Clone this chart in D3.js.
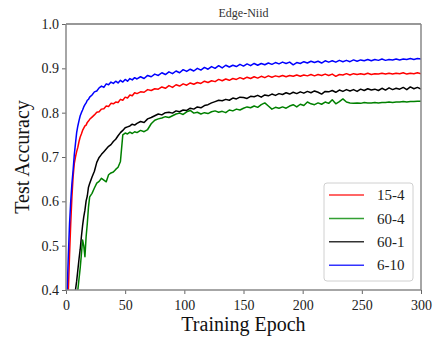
<!DOCTYPE html>
<html><head><meta charset="utf-8">
<script src="https://cdn.jsdelivr.net/npm/d3@7"></script>
<style>body{margin:0;background:#fff}svg{display:block}text{font-family:"Liberation Serif","Times New Roman",serif}</style>
</head><body><svg id="c" width="438" height="338"></svg>
<script>
const epochs = [0,1,2,3,4,5,6,7,8,9,10,11,12,13,14,15,16,17,18,19,20,
22,24,26,28,30,32,34,36,38,40,42,44,46,48,50,52,54,56,58,60,
63,66,69,72,75,78,81,84,87,90,93,96,99,102,105,108,111,114,117,120,
123,126,129,132,135,138,141,144,147,150,153,156,159,162,165,168,171,174,177,180,
183,186,189,192,195,198,201,204,207,210,213,216,219,222,225,228,231,234,237,240,
243,246,249,252,255,258,261,264,267,270,273,276,279,282,285,288,291,294,297,300];

const acc_15_4 = [0.300,0.350,0.400,0.480,0.550,0.610,0.655,0.685,0.700,0.712,0.722,0.735,0.745,0.752,0.760,0.765,0.770,0.772,0.778,0.781,0.785,
0.790,0.795,0.801,0.802,0.808,0.809,0.815,0.814,0.821,0.820,0.824,0.823,0.830,0.828,0.835,0.833,0.840,0.838,0.845,0.843,
0.847,0.846,0.852,0.850,0.854,0.853,0.858,0.855,0.861,0.857,0.863,0.860,0.865,0.862,0.867,0.864,0.868,0.866,0.871,0.868,
0.872,0.870,0.875,0.872,0.876,0.873,0.877,0.875,0.879,0.876,0.880,0.877,0.881,0.878,0.882,0.879,0.883,0.880,0.883,0.881,
0.884,0.881,0.884,0.882,0.885,0.882,0.885,0.883,0.886,0.883,0.886,0.884,0.887,0.884,0.887,0.882,0.886,0.885,0.888,0.885,
0.888,0.886,0.888,0.886,0.889,0.886,0.888,0.887,0.889,0.887,0.889,0.887,0.889,0.888,0.890,0.887,0.889,0.888,0.890,0.888];

const acc_60_4 = [0.100,0.130,0.160,0.190,0.220,0.250,0.280,0.310,0.340,0.370,0.400,0.425,0.450,0.480,0.513,0.500,0.475,0.520,0.550,0.587,0.610,
0.618,0.630,0.641,0.645,0.652,0.648,0.644,0.660,0.664,0.666,0.672,0.677,0.690,0.750,0.754,0.752,0.756,0.753,0.757,0.755,
0.760,0.757,0.762,0.775,0.783,0.786,0.788,0.791,0.789,0.793,0.797,0.799,0.796,0.802,0.805,0.799,0.801,0.797,0.800,0.798,
0.802,0.804,0.801,0.803,0.800,0.806,0.804,0.808,0.806,0.810,0.813,0.811,0.815,0.812,0.818,0.822,0.815,0.808,0.812,0.810,
0.813,0.810,0.815,0.818,0.813,0.819,0.816,0.824,0.820,0.818,0.822,0.819,0.824,0.821,0.829,0.820,0.825,0.831,0.824,0.822,
0.821,0.822,0.821,0.823,0.822,0.822,0.823,0.822,0.823,0.823,0.824,0.823,0.824,0.824,0.825,0.824,0.825,0.825,0.826,0.826];

const acc_60_1 = [0.200,0.220,0.250,0.280,0.310,0.330,0.350,0.375,0.400,0.420,0.445,0.470,0.492,0.520,0.545,0.565,0.580,0.601,0.612,0.632,0.640,
0.655,0.668,0.688,0.699,0.706,0.712,0.718,0.724,0.728,0.735,0.740,0.748,0.755,0.760,0.766,0.768,0.770,0.774,0.772,0.776,
0.780,0.778,0.786,0.789,0.793,0.797,0.795,0.800,0.801,0.799,0.804,0.802,0.806,0.805,0.810,0.808,0.813,0.811,0.816,0.818,
0.822,0.825,0.828,0.827,0.830,0.828,0.833,0.831,0.835,0.834,0.832,0.837,0.836,0.839,0.835,0.840,0.838,0.842,0.839,0.843,
0.841,0.845,0.842,0.846,0.843,0.847,0.844,0.848,0.845,0.849,0.846,0.842,0.848,0.847,0.850,0.846,0.851,0.848,0.852,0.849,
0.852,0.848,0.853,0.850,0.854,0.851,0.853,0.850,0.855,0.851,0.856,0.852,0.855,0.853,0.857,0.852,0.858,0.854,0.857,0.853];

const acc_6_10 = [0.330,0.400,0.480,0.550,0.600,0.640,0.670,0.705,0.730,0.755,0.770,0.782,0.793,0.800,0.806,0.813,0.818,0.822,0.828,0.830,0.835,
0.840,0.847,0.849,0.856,0.860,0.857,0.865,0.863,0.869,0.866,0.871,0.867,0.873,0.869,0.875,0.871,0.877,0.874,0.879,0.876,
0.881,0.877,0.884,0.881,0.887,0.884,0.890,0.886,0.892,0.888,0.894,0.890,0.897,0.893,0.898,0.894,0.900,0.896,0.902,0.898,
0.904,0.900,0.906,0.901,0.907,0.903,0.907,0.904,0.909,0.905,0.910,0.906,0.911,0.907,0.911,0.908,0.912,0.909,0.913,0.910,
0.914,0.911,0.914,0.908,0.913,0.911,0.915,0.912,0.916,0.913,0.916,0.912,0.917,0.914,0.917,0.914,0.918,0.915,0.918,0.915,
0.919,0.916,0.919,0.917,0.920,0.917,0.920,0.918,0.921,0.918,0.920,0.919,0.921,0.919,0.921,0.920,0.922,0.920,0.922,0.921];

const seriesNames = ["15-4","60-4","60-1","6-10"];
const seriesColors = ["#ff0000","#008000","#000000","#0000ff"];
const legendColors = ["#ff3333","#33a033","#333333","#3333ff"];
const xTicks = [0,50,100,150,200,250,300];
const yTicks = [0.4,0.5,0.6,0.7,0.8,0.9,1.0];

const series = [acc_15_4, acc_60_4, acc_60_1, acc_6_10];

const W = 438, H = 338;
const m = {l:66, r:17, t:24, b:48};
const svg = d3.select("#c");
const x = d3.scaleLinear().domain([0,300]).range([m.l, W-m.r]);
const y = d3.scaleLinear().domain([0.4,1.0]).range([H-m.b, m.t]);

svg.append("defs").append("clipPath").attr("id","clip")
  .append("rect").attr("x",m.l).attr("y",m.t).attr("width",W-m.l-m.r).attr("height",H-m.t-m.b);

const line = d3.line().x((d,i)=>x(epochs[i])).y(d=>y(d));
const g = svg.append("g").attr("clip-path","url(#clip)");
series.forEach((s,k)=>{
  g.append("path").datum(s).attr("d",line).attr("fill","none")
   .attr("stroke",seriesColors[k]).attr("stroke-width",1.5).attr("stroke-linejoin","round");
});

// axes
const xa = svg.append("g").attr("transform",`translate(0,${H-m.b})`)
  .call(d3.axisBottom(x).tickValues(xTicks).tickFormat(d3.format("d")).tickSize(4).tickSizeOuter(0));
const ya = svg.append("g").attr("transform",`translate(${m.l},0)`)
  .call(d3.axisLeft(y).tickValues(yTicks).tickFormat(d3.format(".1f")).tickSize(4).tickSizeOuter(0));
[xa,ya].forEach(a=>{
  a.attr("font-family",'"Liberation Serif",serif').attr("font-size",14);
  a.select(".domain").remove();
  a.selectAll(".tick line").attr("stroke","#666");
  a.selectAll(".tick text").attr("fill","#222");
});
xa.selectAll(".tick text").attr("dy","0.95em");
ya.selectAll(".tick text").attr("x",-7);

// spines
svg.append("line").attr("x1",m.l).attr("x2",W-m.r).attr("y1",m.t).attr("y2",m.t).attr("stroke","#333").attr("stroke-width",1.2);
svg.append("line").attr("x1",m.l).attr("x2",W-m.r).attr("y1",H-m.b).attr("y2",H-m.b).attr("stroke","#888").attr("stroke-width",1.5);
svg.append("line").attr("x1",m.l).attr("x2",m.l).attr("y1",m.t).attr("y2",H-m.b).attr("stroke","#888").attr("stroke-width",1.5);
svg.append("line").attr("x1",W-m.r).attr("x2",W-m.r).attr("y1",m.t).attr("y2",H-m.b).attr("stroke","#888").attr("stroke-width",1.5);

// title & labels
svg.append("text").attr("x",(m.l+W-m.r)/2).attr("y",17).attr("text-anchor","middle")
  .style("font-size","12px").attr("fill","#333").text("Edge-Niid");
svg.append("text").attr("x",(m.l+W-m.r)/2).attr("y",331).attr("text-anchor","middle")
  .style("font-size","20px").attr("fill","#111").text("Training Epoch");
svg.append("text").attr("transform",`translate(29,${(m.t+H-m.b)/2}) rotate(-90)`).attr("text-anchor","middle")
  .style("font-size","20px").attr("fill","#111").text("Test Accuracy");

// legend
const lg = svg.append("g");
lg.append("rect").attr("x",324).attr("y",183).attr("width",89).attr("height",98).attr("rx",3)
  .attr("fill","#fff").attr("fill-opacity",0.8).attr("stroke","#d0d0d0");
seriesNames.forEach((n,k)=>{
  const yy = 195 + k*23.4;
  lg.append("line").attr("x1",329).attr("x2",364).attr("y1",yy).attr("y2",yy)
    .attr("stroke",legendColors[k]).attr("stroke-width",1.5);
  lg.append("text").attr("x",377).attr("y",yy).attr("dy","0.35em")
    .style("font-size","15px").attr("fill","#222").text(n);
});
</script></body></html>
